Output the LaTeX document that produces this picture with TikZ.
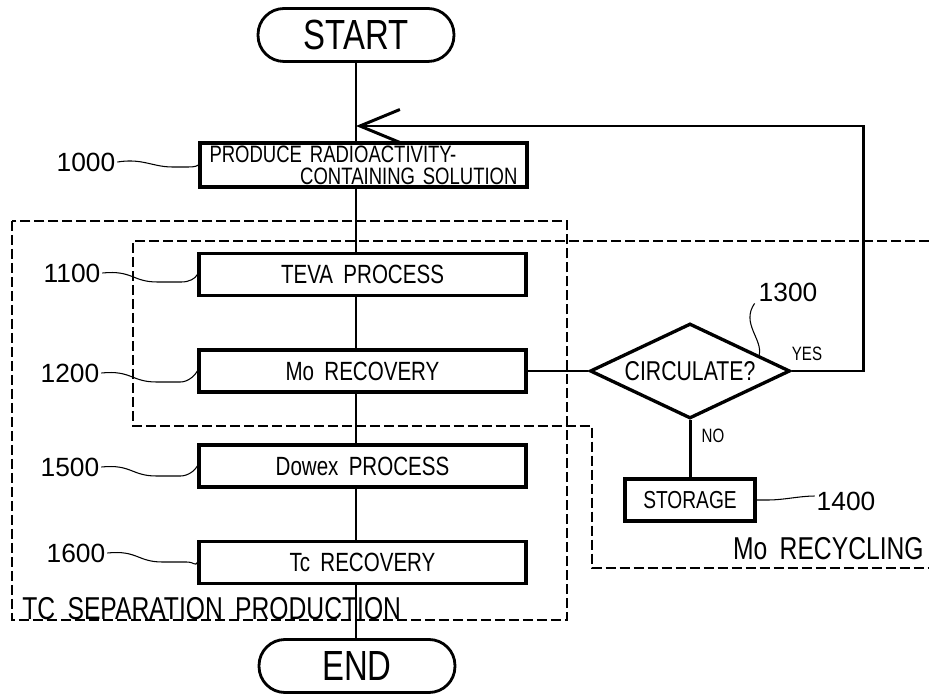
\documentclass[tikz,border=0pt]{standalone}
\usepackage{fontspec}
\setmainfont{Liberation Sans}[FakeStretch=0.78, WordSpace=1.8]
\newfontfamily\numfont{Liberation Sans}
\usetikzlibrary{calc, shapes.geometric, arrows.meta}

\begin{document}
\begin{tikzpicture}[
    x = 0.02cm, y = -0.02cm,
    process/.style  = {draw, line width = 1.9pt, fill = white,
                       minimum width = 6.54cm, minimum height = 0.84cm,
                       inner sep = 0pt, font = \fontsize{15}{18}\selectfont},
    terminal/.style = {draw, line width = 1.6pt, rounded corners = 0.52cm,
                       minimum width = 3.92cm, minimum height = 1.06cm,
                       font = \fontsize{24}{28}\selectfont},
    flow/.style     = {line width = 1.7pt},
    zone/.style     = {line width = 0.9pt, dash pattern = on 0.2cm off 0.08cm},
    leader/.style   = {line width = 0.6pt},
    refnum/.style   = {font = \numfont\fontsize{15}{18}\selectfont, inner sep = 1pt},
    tag/.style      = {font = \fontsize{11}{13}\selectfont, inner sep = 0pt},
    caption/.style  = {font = \fontsize{18}{20}\selectfont, inner sep = 0pt}
  ]

  \useasboundingbox (0,0) rectangle (929,695);

  % The two dashed regions: TC separation production
  %   and the Mo recycling part that runs off to the right.

  \draw[zone] (12,221) rectangle (567,620);
  \draw[zone] (929,241) -- (133,241) -- (133,426) -- (592,426)
              -- (592,568) -- (929,568);

  \node[caption, anchor = west] (tcsep) at (22,609) {TC SEPARATION PRODUCTION};
  \node[caption, anchor = east] (morec) at (924,549) {Mo RECYCLING};

  % Start, end and the steps of the main column.

  \node[terminal] (start) at (356,35)  {START};
  \node[terminal] (end)   at (357,666) {END};

  \node[process, minimum height = 0.88cm, text width = 6.16cm, align = left,
        font = \fontsize{13.5}{12.5}\selectfont]
    (b1000) at (363.5,165)
    {PRODUCE RADIOACTIVITY-\\\hspace*{\fill}CONTAINING SOLUTION};

  \node[process] (b1100) at (362.5,274.5) {TEVA PROCESS};
  \node[process] (b1200) at (362.5,371)   {Mo RECOVERY};
  \node[process] (b1500) at (362.5,466)   {Dowex PROCESS};
  \node[process] (b1600) at (362.5,562.5) {Tc RECOVERY};

  % The decision and the storage step of the recycling part.

  \node[draw, diamond, aspect = 2.1, line width = 1.9pt, inner sep = 0pt,
        minimum width = 4cm, minimum height = 1.9cm,
        font = \fontsize{15.5}{18}\selectfont]
    (circ) at (690,371) {CIRCULATE?};
  \node[process, minimum width = 2.6cm, font = \fontsize{14}{16}\selectfont]
    (store) at (690,500) {STORAGE};

  \node[tag] (yes) at (807,354) {YES};
  \node[tag] (no)  at (713,436) {NO};

  \coordinate (loop) at (863,126);

  % Connect the main column, one segment between each pair of steps.

  \foreach \a/\b in {start/b1000, b1000/b1100, b1100/b1200,
                     b1200/b1500, b1500/b1600, b1600/end}
    \draw[flow] (start.south |- \a.south) -- (start.south |- \b.north);

  \draw[flow] (b1200.east) -- (circ.west);
  \draw[flow] (circ.south) -- (store.north);

  % YES goes back up to the main column above step 1000.

  \draw[flow, -{Straight Barb[length = 0.8cm, width = 0.66cm]}]
    (circ.east) -| (loop) -- (start.south |- loop);

  % Reference numbers with their wavy leaders.

  \node[refnum] (l1000) at (86,162)  {1000};
  \node[refnum] (l1100) at (72,273)  {1100};
  \node[refnum] (l1200) at (70,373)  {1200};
  \node[refnum] (l1500) at (70,467)  {1500};
  \node[refnum] (l1600) at (76,553)  {1600};
  \node[refnum] (l1300) at (788,292) {1300};
  \node[refnum] (l1400) at (846,501) {1400};

  \draw[leader] (l1000.east) .. controls +(25,-4) and +(-20,0) .. ++(55,5)
    -- ++(12,0) .. controls +(8,0) and +(-3,2) .. (b1000.west);

  \foreach \n in {1100, 1200, 1500, 1600}
    \draw[leader] (l\n.east) .. controls +(30,-3) and +(-25,0) .. ++(55,9)
      -- ++(24,0) .. controls +(8,0) and +(-2,4) .. (b\n.west);

  \draw[leader] ([xshift = -0.04cm]l1300.south west)
    .. controls +(-14,20) and +(4,-16) .. ($(circ.north) ! .68 ! (circ.east)$);

  \draw[leader] (store.east) -- ++(12,0)
    .. controls +(14,0) and +(-14,0) .. ([yshift = 0.1cm]l1400.west);

\end{tikzpicture}
\end{document}
